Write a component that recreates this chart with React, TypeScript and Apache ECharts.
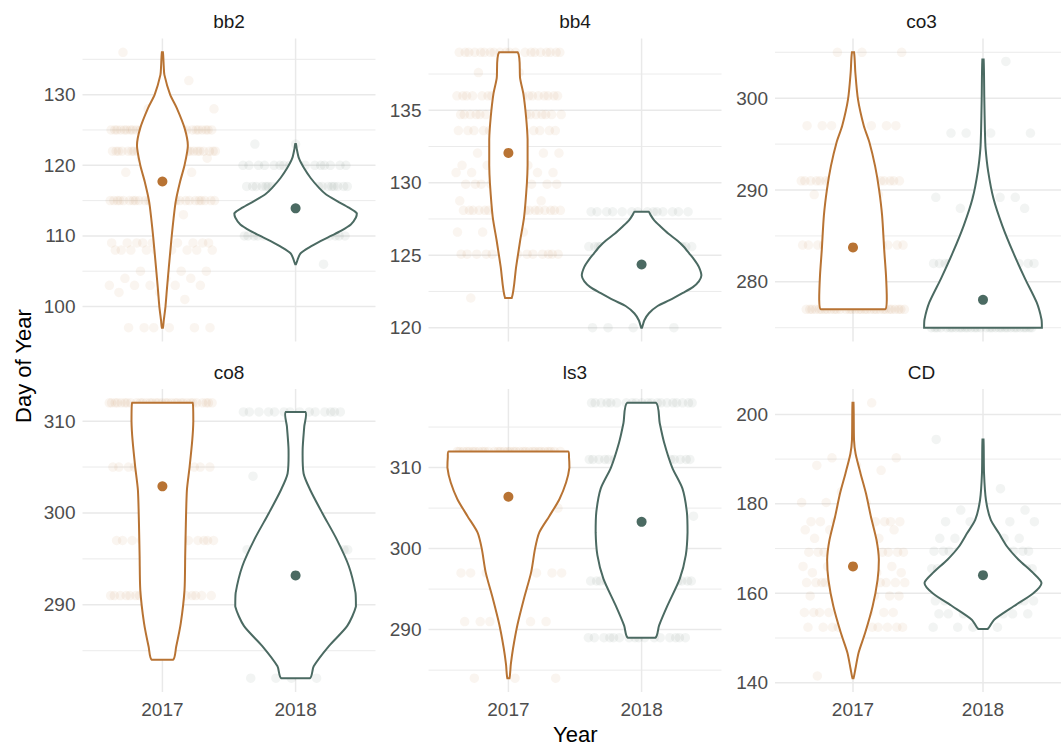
import React, { useEffect, useRef } from "react";
import * as echarts from "echarts";

// ---------- data ----------
const PANELS = ["bb2", "bb4", "co3", "co8", "ls3", "CD"];
const YEARS = ["2017", "2018"];
const YEAR_COLORS = ["#b87333", "#4b6a62"];

const Y_TICKS_BB2 = [100, 110, 120, 130];
const Y_TICKS_BB4 = [120, 125, 130, 135];
const Y_TICKS_CO3 = [280, 290, 300];
const Y_TICKS_CO8 = [290, 300, 310];
const Y_TICKS_LS3 = [290, 300, 310];
const Y_TICKS_CD = [140, 160, 180, 200];

const MEANS_2017 = [117.7, 132.06, 283.75, 302.9, 306.4, 166.0];
const MEANS_2018 = [113.9, 124.36, 278.04, 293.2, 303.3, 164.05];

// violin outlines: [day of year, half width in category units], bottom -> top
const VIOLIN_BB2_2017 = [[97, 0.004], [98, 0.01], [100, 0.023], [102.5, 0.034], [105.5, 0.048], [110, 0.07], [112.5, 0.084], [114.9, 0.1], [117.7, 0.133], [120, 0.166], [122.8, 0.191], [125.3, 0.166], [128.1, 0.108], [130, 0.058], [132.8, 0.015], [134, 0.01], [136, 0.004]];
const VIOLIN_BB2_2018 = [[106, 0.003], [106.9, 0.02], [107.55, 0.038], [108.35, 0.1], [109.3, 0.19], [110, 0.265], [110.7, 0.34], [111.6, 0.415], [112.6, 0.453], [113.2, 0.46], [114, 0.4], [114.9, 0.315], [115.9, 0.227], [116.8, 0.176], [118.2, 0.113], [119.6, 0.063], [121, 0.025], [122.4, 0.008], [123, 0.003]];
const VIOLIN_BB4_2017 = [[122.05, 0.025], [124.2, 0.058], [126, 0.088], [127.65, 0.118], [130, 0.139], [131.2, 0.144], [133, 0.144], [134.5, 0.133], [136.1, 0.113], [137.2, 0.088], [139, 0.07]];
const VIOLIN_BB4_2018 = [[120, 0.003], [120.5, 0.02], [121, 0.055], [121.5, 0.12], [121.9, 0.21], [122.4, 0.31], [122.8, 0.385], [123.2, 0.43], [123.6, 0.449], [124.2, 0.43], [124.7, 0.395], [125.1, 0.36], [125.6, 0.315], [126, 0.27], [126.5, 0.2], [127, 0.14], [127.4, 0.095], [127.8, 0.066], [128, 0.053]];
const VIOLIN_CO3_2017 = [[277, 0.247], [278.1, 0.26], [280.65, 0.254], [283.5, 0.24], [287.2, 0.224], [290.1, 0.2], [292.6, 0.17], [295.2, 0.126], [297, 0.083], [299.9, 0.038], [302.8, 0.018], [305, 0.008]];
const VIOLIN_CO3_2018 = [[275, 0.453], [275.9, 0.45], [277.75, 0.413], [280.3, 0.325], [283.2, 0.232], [286.1, 0.149], [289.1, 0.08], [292, 0.04], [294.5, 0.02], [296.3, 0.015], [299.9, 0.01], [304.2, 0.005]];
const VIOLIN_CO8_2017 = [[284, 0.079], [285.4, 0.103], [288, 0.138], [291.6, 0.166], [295.2, 0.171], [298.8, 0.176], [302.5, 0.184], [305, 0.204], [307.9, 0.224], [310, 0.232], [312, 0.227]];
const VIOLIN_CO8_2018 = [[282, 0.107], [283.3, 0.136], [285.5, 0.25], [287.7, 0.388], [289.8, 0.453], [291.3, 0.45], [294.2, 0.4], [297.1, 0.31], [300, 0.2], [302.5, 0.11], [304.3, 0.06], [306.9, 0.053], [309.4, 0.065], [311, 0.074]];
const VIOLIN_LS3_2017 = [[284, 0.008], [285.7, 0.018], [287.7, 0.035], [290.6, 0.068], [293.9, 0.118], [297.1, 0.171], [300, 0.2], [302, 0.232], [304, 0.307], [306.1, 0.383], [308.15, 0.433], [310, 0.458], [311.3, 0.455], [312, 0.448]];
const VIOLIN_LS3_2018 = [[289, 0.103], [290.5, 0.131], [292.96, 0.194], [296.3, 0.287], [299.2, 0.332], [302, 0.345], [304.5, 0.34], [307.4, 0.307], [310, 0.23], [313.1, 0.169], [315.5, 0.136], [318, 0.108]];
const VIOLIN_CD_2017 = [[141, 0.004], [143, 0.018], [146.7, 0.043], [151.1, 0.093], [157.1, 0.151], [163, 0.189], [167.5, 0.199], [171.9, 0.181], [177.1, 0.138], [182.3, 0.1], [186.8, 0.058], [191.2, 0.02], [194.2, 0.008], [202.6, 0.004]];
const VIOLIN_CD_2018 = [[152, 0.035], [154.1, 0.086], [157.1, 0.236], [160, 0.387], [162.3, 0.45], [164.5, 0.387], [167.5, 0.274], [170.4, 0.186], [173.4, 0.123], [176.4, 0.06], [180.8, 0.023], [186.8, 0.008], [194.4, 0.004]];

// observations: [day of year, number of records]
const POINTS_BB2_2017 = [[136, 1], [132, 1], [128, 3], [125, 30], [122, 30], [121, 3], [119, 2], [115, 28], [113, 1], [109, 10], [108, 10], [105, 3], [104, 3], [103, 5], [102, 2], [101, 1], [97, 6]];
const POINTS_BB2_2018 = [[123, 2], [120, 16], [117, 24], [114, 4], [113, 4], [110, 20], [106, 1]];
const POINTS_BB4_2017 = [[139, 20], [137.6, 2], [136, 20], [134.7, 18], [133.6, 14], [132.05, 5], [131.2, 3], [130.7, 6], [129.9, 10], [128.75, 3], [128.1, 20], [126.6, 3], [125.07, 14], [123.8, 1], [122.05, 1]];
const POINTS_BB4_2018 = [[128, 14], [125.6, 26], [124, 3], [120, 4]];
const POINTS_CO3_2017 = [[305, 3], [297, 8], [291, 20], [289.5, 4], [284, 14], [277, 32]];
const POINTS_CO3_2018 = [[304, 1], [296.2, 4], [289.2, 4], [288, 2], [282, 20], [279, 3], [275, 32]];
const POINTS_CO8_2017 = [[312, 32], [305, 14], [297, 14], [291, 20]];
const POINTS_CO8_2018 = [[311, 14], [304, 2], [296, 16], [291, 3], [282, 4]];
const POINTS_LS3_2017 = [[312, 32], [305, 6], [297, 10], [291, 6], [284, 3]];
const POINTS_LS3_2018 = [[318, 20], [311, 20], [304, 10], [296, 20], [289, 16]];
const POINTS_CD_2017 = [[202.6, 1], [190.3, 2], [188.6, 2], [187.5, 1], [182.7, 1], [180.3, 3], [176, 10], [174.2, 4], [172.3, 4], [169.2, 12], [166, 6], [164.6, 5], [162.4, 14], [159.4, 6], [155.7, 10], [152.4, 12], [141.5, 1]];
const POINTS_CD_2018 = [[194.4, 1], [183.4, 1], [178.6, 2], [176, 5], [172.3, 6], [169.4, 14], [165.5, 16], [162.4, 6], [158.3, 16], [155.4, 8], [152.4, 4]];

const Y_TICKS = [Y_TICKS_BB2, Y_TICKS_BB4, Y_TICKS_CO3, Y_TICKS_CO8, Y_TICKS_LS3, Y_TICKS_CD];
const VIOLINS = [
  [VIOLIN_BB2_2017, VIOLIN_BB2_2018],
  [VIOLIN_BB4_2017, VIOLIN_BB4_2018],
  [VIOLIN_CO3_2017, VIOLIN_CO3_2018],
  [VIOLIN_CO8_2017, VIOLIN_CO8_2018],
  [VIOLIN_LS3_2017, VIOLIN_LS3_2018],
  [VIOLIN_CD_2017, VIOLIN_CD_2018],
];
const POINTS = [
  [POINTS_BB2_2017, POINTS_BB2_2018],
  [POINTS_BB4_2017, POINTS_BB4_2018],
  [POINTS_CO3_2017, POINTS_CO3_2018],
  [POINTS_CO8_2017, POINTS_CO8_2018],
  [POINTS_LS3_2017, POINTS_LS3_2018],
  [POINTS_CD_2017, POINTS_CD_2018],
];

// ---------- layout ----------
const FONT = "'Liberation Sans', Arial, Helvetica, sans-serif";
const GRID_LEFTS = [82.5, 428.5, 775];
const GRID_TOPS = [38.5, 389];
const GRID_W = 293;
const GRID_H = 303;
const JITTER = 0.4;
const SMALL_FONT = 19;
const TITLE_FONT = 22;

function jitter(rows: number[][], cx: number, phase: number) {
  const out: number[][] = [];
  let k = 0;
  rows.forEach(([day, count]) => {
    for (let j = 0; j < count; j++, k++) {
      const f = (k * 0.6180339887 + phase) % 1;
      out.push([cx - JITTER + 2 * JITTER * f, day]);
    }
  });
  return out;
}

function buildOption() {
  const grid: any[] = [];
  const xAxis: any[] = [];
  const yAxis: any[] = [];
  const series: any[] = [];
  const graphic: any[] = [];

  PANELS.forEach((name, p) => {
    const left = GRID_LEFTS[p % 3];
    const top = GRID_TOPS[Math.floor(p / 3)];
    grid.push({ left, top, width: GRID_W, height: GRID_H, containLabel: false });

    const vs = VIOLINS[p];
    const lo = Math.min(vs[0][0][0], vs[1][0][0]);
    const hi = Math.max(vs[0][vs[0].length - 1][0], vs[1][vs[1].length - 1][0]);
    const pad = (hi - lo) * 0.05;
    const yMin = lo - pad;
    const yMax = hi + pad;

    xAxis.push({
      gridIndex: p,
      type: "value",
      min: 0.4,
      max: 2.6,
      axisLine: { show: false },
      axisTick: { show: false },
      splitLine: { show: false },
      axisLabel: {
        show: p >= 3,
        customValues: [1, 2],
        formatter: (v: number) => YEARS[Math.round(v) - 1] || "",
        fontSize: SMALL_FONT,
        color: "#4d4d4d",
        fontFamily: FONT,
        margin: 8,
      },
    });
    const ticks = Y_TICKS[p];
    yAxis.push({
      gridIndex: p,
      type: "value",
      min: yMin,
      max: yMax,
      axisLine: { show: false },
      axisTick: { show: false },
      splitLine: { show: false },
      axisLabel: {
        customValues: ticks,
        formatter: (v: number) => String(v),
        fontSize: SMALL_FONT,
        color: "#4d4d4d",
        fontFamily: FONT,
        margin: 7,
      },
    });

    // grid lines
    const step = ticks[1] - ticks[0];
    const gridData: number[][] = [];
    ticks.forEach((t) => gridData.push([1, t, 0]));
    for (let m = ticks[0] - step / 2; m <= ticks[ticks.length - 1] + step; m += step) {
      if (m > yMin && m < yMax) gridData.push([1, m, 1]);
    }
    gridData.push([1, (yMin + yMax) / 2, 2]);
    gridData.push([2, (yMin + yMax) / 2, 2]);
    series.push({
      type: "custom",
      xAxisIndex: p,
      yAxisIndex: p,
      silent: true,
      z: 1,
      data: gridData,
      renderItem: (params: any, api: any) => {
        const cs = params.coordSys;
        const kind = api.value(2);
        const pt = api.coord([api.value(0), api.value(1)]);
        if (kind === 2) {
          return {
            type: "line",
            shape: { x1: pt[0], y1: cs.y, x2: pt[0], y2: cs.y + cs.height },
            style: { stroke: "#e9e9e9", lineWidth: 1.5 },
          };
        }
        return {
          type: "line",
          shape: { x1: cs.x, y1: pt[1], x2: cs.x + cs.width, y2: pt[1] },
          style: { stroke: "#e9e9e9", lineWidth: kind === 0 ? 1.5 : 0.9 },
        };
      },
    });

    // jittered observations
    [0, 1].forEach((yi) => {
      series.push({
        type: "scatter",
        xAxisIndex: p,
        yAxisIndex: p,
        silent: true,
        z: 2,
        symbolSize: 9.5,
        itemStyle: { color: YEAR_COLORS[yi], opacity: 0.075 },
        data: jitter(POINTS[p][yi], yi + 1, 0.13 + 0.37 * yi + 0.11 * p),
      });
    });

    // violins
    series.push({
      type: "custom",
      xAxisIndex: p,
      yAxisIndex: p,
      silent: true,
      z: 3,
      data: [
        [1, MEANS_2017[p], 0],
        [2, MEANS_2018[p], 1],
      ],
      renderItem: (params: any, api: any) => {
        const idx = api.value(2);
        const cx = api.value(0);
        const prof = VIOLINS[p][idx];
        const right = prof.map(([v, hw]) => api.coord([cx + hw, v]));
        const left = prof
          .slice()
          .reverse()
          .map(([v, hw]) => api.coord([cx - hw, v]));
        const pts = right.concat(left);
        return {
          type: "polygon",
          shape: { points: pts, smooth: 0.25, smoothConstraint: [pts[0], pts[0]] },
          style: { fill: "#ffffff", stroke: YEAR_COLORS[idx], lineWidth: 2 },
        };
      },
    });

    // means
    series.push({
      type: "scatter",
      xAxisIndex: p,
      yAxisIndex: p,
      silent: true,
      z: 4,
      symbolSize: 10,
      itemStyle: { opacity: 1 },
      data: [
        { value: [1, MEANS_2017[p]], itemStyle: { color: YEAR_COLORS[0], opacity: 1 } },
        { value: [2, MEANS_2018[p]], itemStyle: { color: YEAR_COLORS[1], opacity: 1 } },
      ],
    });

    graphic.push({
      type: "text",
      x: left + GRID_W / 2,
      y: top - 17,
      style: {
        text: name,
        fill: "#1a1a1a",
        fontSize: SMALL_FONT,
        fontFamily: FONT,
        textAlign: "center",
        textVerticalAlign: "middle",
      },
    });
  });

  graphic.push({
    type: "text",
    x: 23,
    y: 366,
    rotation: Math.PI / 2,
    style: {
      text: "Day of Year",
      fill: "#000000",
      fontSize: TITLE_FONT,
      fontFamily: FONT,
      textAlign: "center",
      textVerticalAlign: "middle",
    },
  });
  graphic.push({
    type: "text",
    x: GRID_LEFTS[0] + (GRID_LEFTS[2] + GRID_W - GRID_LEFTS[0]) / 2,
    y: 734,
    style: {
      text: "Year",
      fill: "#000000",
      fontSize: TITLE_FONT,
      fontFamily: FONT,
      textAlign: "center",
      textVerticalAlign: "middle",
    },
  });

  return {
    animation: false,
    backgroundColor: "#ffffff",
    textStyle: { fontFamily: FONT },
    grid,
    xAxis,
    yAxis,
    series,
    graphic,
  };
}

export default function App() {
  const ref = useRef<HTMLDivElement>(null);
  useEffect(() => {
    if (!ref.current) return;
    const chart = echarts.init(ref.current, null, { renderer: "svg" });
    chart.setOption(buildOption() as any);
    return () => chart.dispose();
  }, []);
  return (
    <div
      ref={ref}
      style={{ position: "absolute", left: 0, top: 0, width: 1061, height: 746, background: "#fff" }}
    />
  );
}
